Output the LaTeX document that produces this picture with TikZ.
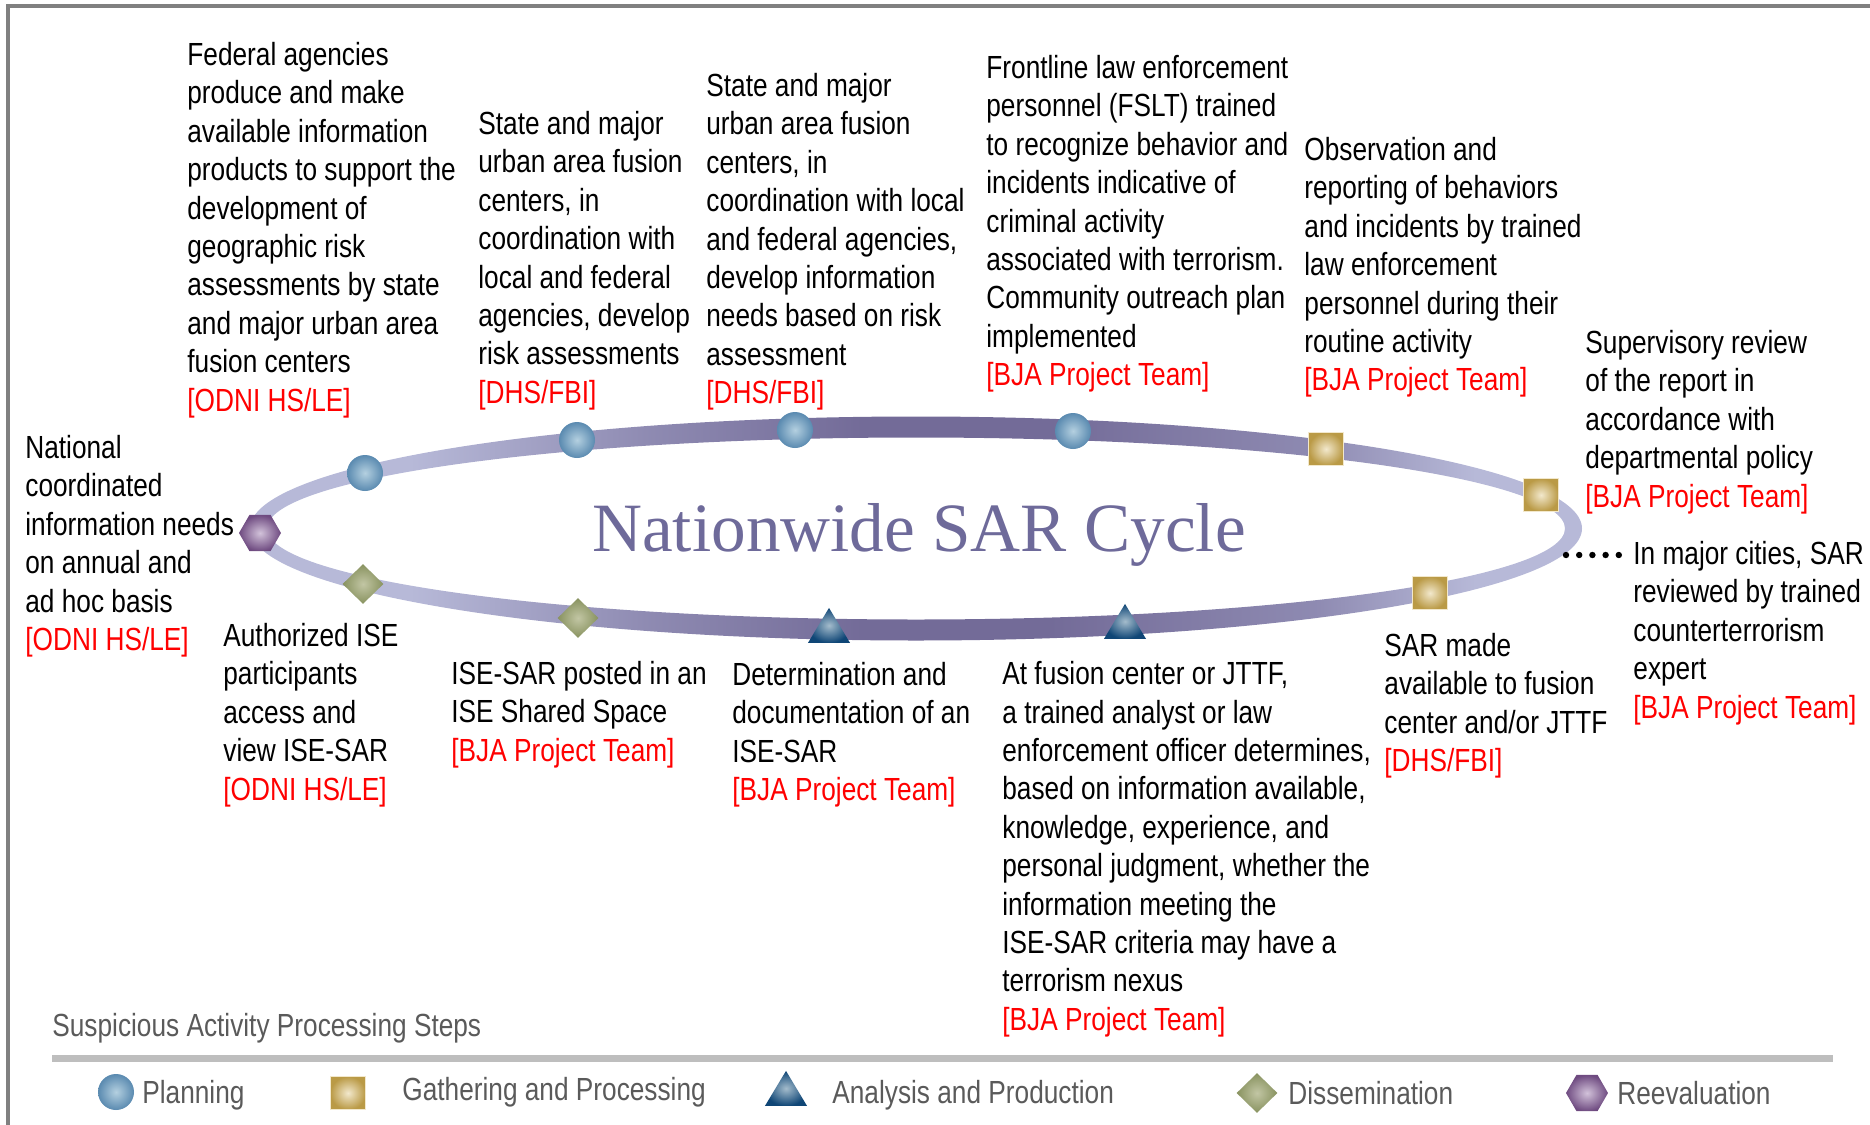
\documentclass[tikz,border=0pt]{standalone}
\usepackage{fontspec}
\setmainfont[FakeStretch=0.82]{Liberation Sans}
\newfontfamily\titlefont{Liberation Serif}
\usetikzlibrary{shapes.geometric}
\definecolor{framegray}{HTML}{808080}
\definecolor{rulegray}{HTML}{BEBEBE}
\definecolor{legendgray}{HTML}{5A5A5A}
\definecolor{titlepurple}{HTML}{6E6A9A}
\definecolor{ringlight}{HTML}{B7B9D8}
\definecolor{ringdark}{HTML}{736B98}
\definecolor{ballin}{HTML}{B4D0E0}
\definecolor{ballout}{HTML}{5A8AB0}
\definecolor{boxin}{HTML}{F2E8CC}
\definecolor{boxout}{HTML}{BA9A46}
\definecolor{triin}{HTML}{A4BCCC}
\definecolor{triout}{HTML}{0F4676}
\definecolor{diain}{HTML}{C2C6A4}
\definecolor{diaout}{HTML}{88925F}
\definecolor{hexin}{HTML}{D2C2DA}
\definecolor{hexout}{HTML}{6E4A80}
\pgfdeclarehorizontalshading{ringshade}{100bp}{
  color(0bp)=(ringlight); color(31bp)=(ringlight); color(40bp)=(ringdark!60!ringlight);
  color(48bp)=(ringdark); color(55bp)=(ringdark); color(65bp)=(ringdark!60!ringlight); color(71bp)=(ringlight); color(100bp)=(ringlight)}
\newcommand{\srcl}[1]{\textcolor{red}{#1}}
\tikzset{
    txtsty/.style={anchor=north west,inner sep=0pt,align=left,font=\fontsize{16}{19.2}\selectfont,execute at begin node=\strut},
    legsty/.style={anchor=west,inner sep=0pt,text=legendgray,font=\fontsize{16}{19.2}\selectfont},
    ballsty/.style={circle,inner sep=0pt,minimum size=18pt,inner color=ballin,outer color=ballout},
    boxsty/.style={rectangle,inner sep=0pt,minimum width=17.5pt,minimum height=16.5pt,inner color=boxin,outer color=boxout,draw=boxin,line width=0.4pt},
    tristy/.style={isosceles triangle,isosceles triangle apex angle=62,shape border rotate=90,inner sep=0pt,minimum height=17.5pt,minimum width=20.5pt,inner color=triin,outer color=triout},
    diasty/.style={diamond,inner sep=0pt,minimum width=20.5pt,minimum height=20pt,inner color=diain,outer color=diaout},
    hexsty/.style={regular polygon,regular polygon sides=6,inner sep=0pt,minimum size=21pt,inner color=hexin,outer color=hexout},
    dotsty/.style={line width=3.2pt,line cap=round,dash pattern=on 0pt off 6.6pt},
}

\begin{document}
\begin{tikzpicture}[x=0.5pt,y=-0.5pt]
  \useasboundingbox (0,0) rectangle (1870,1125);

  \draw[framegray,line width=2pt] (8,1125) -- (8,6) -- (1870,6);

  \path[shading=ringshade,even odd rule] (916,528.5) ellipse [x radius=666,y radius=112] (916,528.5) ellipse [x radius=649,y radius=91];

  \node[text=titlepurple,inner sep=0pt,font=\titlefont\fontsize{34.6}{34.6}\selectfont] (title) at (919,535) {Nationwide SAR Cycle};

  \node[ballsty] (plana) at (365,473) {};
  \node[ballsty] (planb) at (577,440) {};
  \node[ballsty] (planc) at (795,430) {};
  \node[ballsty] (pland) at (1073,431) {};
  \node[boxsty] (gatha) at (1326,449) {};
  \node[boxsty] (gathb) at (1541,495) {};
  \node[boxsty] (gathc) at (1430,593) {};
  \node[tristy] (anala) at (1125,627) {};
  \node[tristy] (analb) at (829,631) {};
  \node[diasty] (dissa) at (578,618) {};
  \node[diasty] (dissb) at (363,584) {};
  \node[hexsty] (reeva) at (260,533) {};

  \node[txtsty] (federal) at (187,42) {Federal agencies\\produce and make\\available information\\products to support the\\development of\\geographic risk\\assessments by state\\and major urban area\\fusion centers\\\srcl{[ODNI HS/LE]}};
  \node[txtsty] (statea) at (478,111) {State and major\\urban area fusion\\centers, in\\coordination with\\local and federal\\agencies, develop\\risk assessments\\\srcl{[DHS/FBI]}};
  \node[txtsty] (stateb) at (706,73) {State and major\\urban area fusion\\centers, in\\coordination with local\\and federal agencies,\\develop information\\needs based on risk\\assessment\\\srcl{[DHS/FBI]}};
  \node[txtsty] (frontline) at (986,55) {Frontline law enforcement\\personnel (FSLT) trained\\to recognize behavior and\\incidents indicative of\\criminal activity\\associated with terrorism.\\Community outreach plan\\implemented\\\srcl{[BJA Project Team]}};
  \node[txtsty] (observe) at (1304,137) {Observation and\\reporting of behaviors\\and incidents by trained\\law enforcement\\personnel during their\\routine activity\\\srcl{[BJA Project Team]}};
  \node[txtsty] (review) at (1585,330) {Supervisory review\\of the report in\\accordance with\\departmental policy\\\srcl{[BJA Project Team]}};
  \node[txtsty] (cities) at (1633,541) {In major cities, SAR\\reviewed by trained\\counterterrorism\\expert\\\srcl{[BJA Project Team]}};
  \node[txtsty] (sarmade) at (1384,633) {SAR made\\available to fusion\\center and/or JTTF\\\srcl{[DHS/FBI]}};
  \node[txtsty] (fusion) at (1002,661) {At fusion center or JTTF,\\a trained analyst or law\\enforcement officer determines,\\based on information available,\\knowledge, experience, and\\personal judgment, whether the\\information meeting the\\ISE-SAR criteria may have a\\terrorism nexus\\\srcl{[BJA Project Team]}};
  \node[txtsty] (determine) at (732,662) {Determination and\\documentation of an\\ISE-SAR\\\srcl{[BJA Project Team]}};
  \node[txtsty] (posted) at (451,661) {ISE-SAR posted in an\\ISE Shared Space\\\srcl{[BJA Project Team]}};
  \node[txtsty] (authorized) at (223,623) {Authorized ISE\\participants\\access and\\view ISE-SAR\\\srcl{[ODNI HS/LE]}};
  \node[txtsty] (national) at (25,435) {National\\coordinated\\information needs\\on annual and\\ad hoc basis\\\srcl{[ODNI HS/LE]}};

  \coordinate (ringedge) at (1566,555);
  \draw[dotsty] (ringedge) -- ([xshift=-6.5pt]ringedge -| cities.west);

  \node[legsty] (legtitle) at (52,1028) {Suspicious Activity Processing Steps};
  \fill[rulegray] (52,1055) rectangle (1833,1062);

  \node[ballsty] (legplan) at (116,1092) {};
  \node[legsty] (legplantxt) at (142,1095) {Planning};
  \node[boxsty] (leggath) at (348,1093) {};
  \node[legsty] (leggathtxt) at (402,1092) {Gathering and Processing};
  \node[tristy] (leganal) at (786,1094) {};
  \node[legsty] (leganaltxt) at (832,1095) {Analysis and Production};
  \node[diasty] (legdiss) at (1257,1093) {};
  \node[legsty] (legdisstxt) at (1288,1093) {Dissemination};
  \node[hexsty] (legreev) at (1587,1093) {};
  \node[legsty] (legreevtxt) at (1617,1093) {Reevaluation};
\end{tikzpicture}
\end{document}
